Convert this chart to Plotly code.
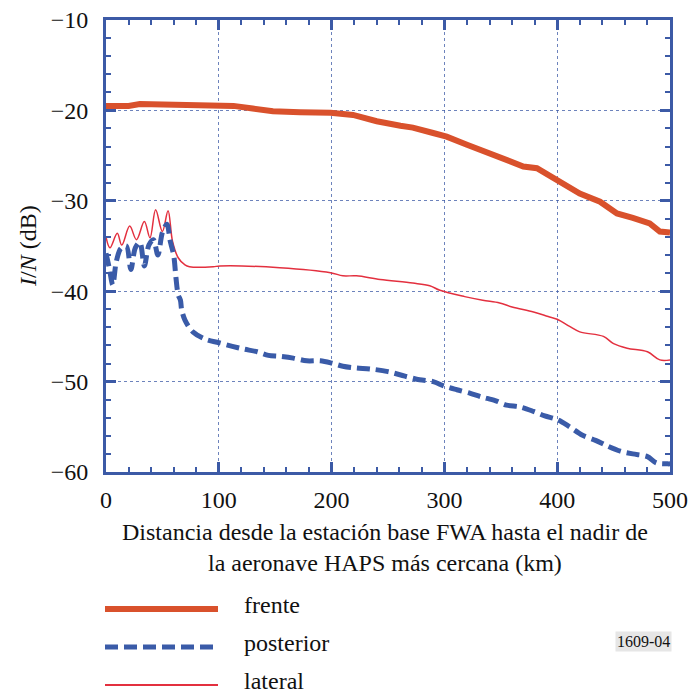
import plotly.graph_objects as go

# ---- data ----
frente_km = [0, 20, 30, 50, 60, 80, 101, 113, 130, 148, 172, 199, 219, 240, 261, 272,
             290, 302, 320, 340, 370, 382, 400, 420, 438, 453, 467, 482, 491, 500]
frente_db = [-19.5, -19.5, -19.3, -19.35, -19.4, -19.5, -19.5, -19.5, -19.8, -20.1, -20.2,
             -20.25, -20.5, -21.2, -21.7, -21.9, -22.5, -22.9, -23.8, -24.7, -26.2, -26.4,
             -27.7, -29.2, -30.1, -31.4, -31.9, -32.5, -33.4, -33.5]

posterior_km = [0, 3, 6, 9, 13, 18, 22, 26, 30, 34, 38, 42, 46, 50, 54, 57, 60, 62, 64, 66,
                67, 70, 77, 88, 100, 112, 122, 134, 144, 154, 166, 178, 190, 200, 210, 222,
                234, 250, 265, 278, 290, 300, 311, 323, 333, 345, 355, 367, 379, 389, 400,
                411, 422, 434, 444, 456, 467, 480, 488, 498, 500]
posterior_db = [-35.8, -37.5, -39.3, -36.8, -35.3, -35.0, -37.6, -35.2, -34.6, -37.2, -34.9,
                -34.3, -36.0, -33.5, -32.6, -34.5, -36.0, -38.5, -40.4, -41.0, -42.0, -43.2,
                -44.5, -45.3, -45.7, -46.1, -46.4, -46.7, -47.1, -47.2, -47.4, -47.7, -47.7,
                -47.95, -48.3, -48.5, -48.6, -48.9, -49.4, -49.8, -50.0, -50.5, -50.9, -51.3,
                -51.7, -52.1, -52.6, -52.8, -53.3, -53.8, -54.2, -55.0, -55.9, -56.5, -57.1,
                -57.7, -58.0, -58.3, -59.0, -59.1, -59.1]

lateral_km = [0, 3.5, 10, 14, 21, 27, 34, 39, 44, 50, 55, 59, 64, 70, 74, 95, 101, 154, 199,
              210, 222, 243, 272, 287, 296, 318, 334, 349, 360, 379, 392, 400, 411, 420, 441,
              450, 462, 480, 491, 500]
lateral_db = [-34.0, -35.2, -33.6, -34.9, -32.8, -34.3, -32.3, -34.1, -31.0, -33.4, -31.1,
              -34.5, -36.3, -37.1, -37.3, -37.3, -37.2, -37.4, -37.95, -38.3, -38.3, -38.7,
              -39.1, -39.4, -39.9, -40.6, -41.0, -41.3, -41.75, -42.3, -42.8, -43.1, -43.9,
              -44.5, -45.0, -45.8, -46.3, -46.7, -47.6, -47.6]

series_names = ["frente", "posterior", "lateral"]
x_ticks = [0, 100, 200, 300, 400, 500]
y_ticks = [-60, -50, -40, -30, -20, -10]

C_FRENTE = "#D9512C"
C_POST = "#3A5BA8"
C_LAT = "#E3303F"
C_AXIS = "#3C5AA6"
FONT = "Liberation Serif, Times New Roman, serif"

fig = go.Figure()
fig.add_trace(go.Scatter(x=lateral_km, y=lateral_db, mode="lines", name=series_names[2],
                         line=dict(color=C_LAT, width=1.5, shape="spline", smoothing=1.0)))
fig.add_trace(go.Scatter(x=posterior_km, y=posterior_db, mode="lines", name=series_names[1],
                         line=dict(color=C_POST, width=5, dash="13px,6px", shape="spline", smoothing=0.9)))
fig.add_trace(go.Scatter(x=frente_km, y=frente_db, mode="lines", name=series_names[0],
                         line=dict(color=C_FRENTE, width=6)))

axis_common = dict(
    showline=True, linecolor=C_AXIS, linewidth=3, mirror="ticks",
    ticks="inside", ticklen=10, tickwidth=2.5, tickcolor=C_AXIS,
    showgrid=True, gridcolor="rgba(60,90,166,0.75)", gridwidth=1, griddash="dot",
    zeroline=False, automargin=False, tickfont=dict(family=FONT, size=24, color="#111"),
)

fig.update_xaxes(range=[0, 500], tickvals=x_ticks, ticklabelstandoff=4,
                 minor=dict(dtick=20, ticks="inside", ticklen=5, tickwidth=2, tickcolor=C_AXIS, showgrid=False),
                 **axis_common)
fig.update_yaxes(range=[-60, -10], tickvals=y_ticks, ticklabelstandoff=10,
                 minor=dict(dtick=2, ticks="inside", ticklen=5, tickwidth=2, tickcolor=C_AXIS, showgrid=False),
                 **axis_common)

# y title
fig.add_annotation(text="<i>I</i>/<i>N</i> (dB)", xref="paper", yref="paper",
                   x=-0.165, y=0.5, textangle=-90, showarrow=False,
                   font=dict(family=FONT, size=24, color="#111"))
# x title (two lines)
fig.add_annotation(text="Distancia desde la estación base FWA hasta el nadir de<br>la aeronave HAPS más cercana (km)",
                   xref="paper", yref="paper", x=0.495, y=-0.1, yanchor="top", showarrow=False,
                   font=dict(family=FONT, size=24, color="#111"))

# custom legend below the plot
W, H = 564.0, 452.0
def px_x(p):
    return (p - 106) / W
def px_y(p):
    return (472 - p) / H

legend_rows = [(609, C_FRENTE, 6, "solid"), (647, C_POST, 5, "13px,6px"), (685, C_LAT, 2, "solid")]
for (yy, col, wd, dsh), nm in zip(legend_rows, series_names):
    fig.add_shape(type="line", xref="paper", yref="paper",
                  x0=px_x(105), x1=px_x(218), y0=px_y(yy), y1=px_y(yy),
                  line=dict(color=col, width=wd, dash=dsh))
    fig.add_annotation(text=nm, xref="paper", yref="paper", x=px_x(242), y=px_y(yy - 4),
                       xanchor="left", yanchor="middle", showarrow=False,
                       font=dict(family=FONT, size=24, color="#111"))

fig.add_annotation(text="1609-04", xref="paper", yref="paper", x=px_x(672), y=px_y(641),
                   xanchor="right", yanchor="middle", showarrow=False, bgcolor="#E6E6E6",
                   borderpad=1, font=dict(family=FONT, size=16, color="#111"))

fig.update_layout(
    width=690, height=695, showlegend=False,
    margin=dict(l=106, r=20, t=20, b=223),
    paper_bgcolor="white", plot_bgcolor="white",
)

fig.write_html("out.html")
